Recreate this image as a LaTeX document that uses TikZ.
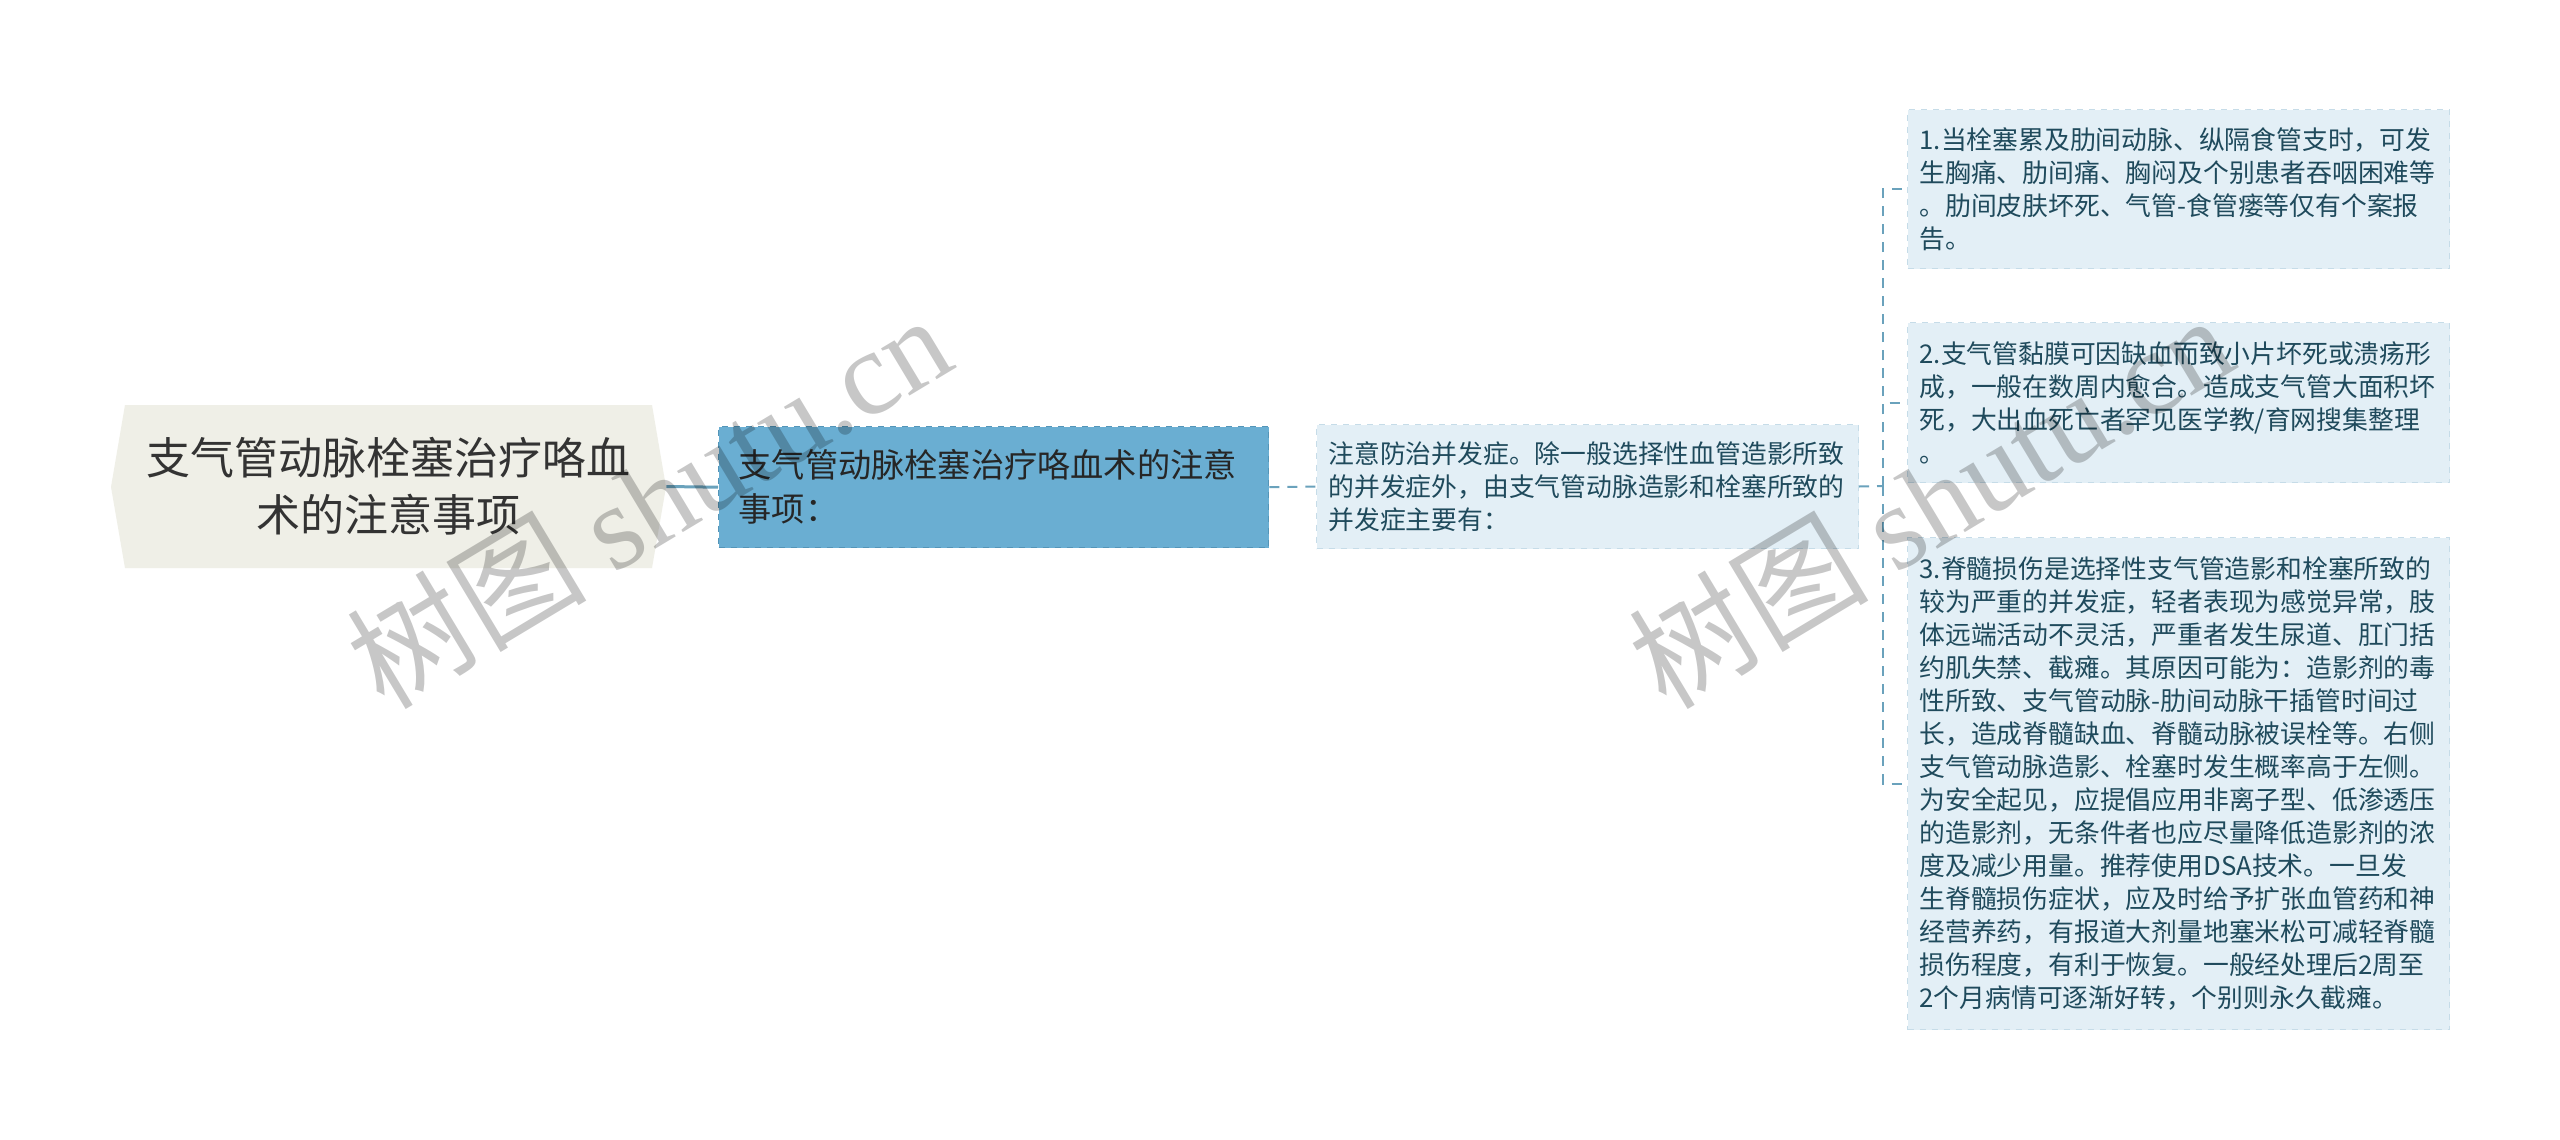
\documentclass[tikz,border=0pt]{standalone}
\usepackage{fontspec}
\setmainfont{Noto Sans CJK SC}
\newfontfamily\wmserif{Liberation Serif}
\definecolor{rootfill}{HTML}{EFEFE7}
\definecolor{roottext}{HTML}{333333}
\definecolor{midfill}{HTML}{6AAED2}
\definecolor{midline}{HTML}{5495B8}
\definecolor{leaffill}{HTML}{E3EFF6}
\definecolor{leafline}{HTML}{C6DCE8}
\definecolor{leaftext}{HTML}{1F4A5C}
\definecolor{conn}{HTML}{6AA2BC}
\tikzset{
  rootnode/.style={inner sep=0pt, minimum width=277.5pt, minimum height=81.5pt, align=center,
    text=roottext, font=\fontsize{22pt}{28.5pt}\selectfont},
  midnode/.style={draw=midline, dashed, line width=0.7pt, fill=midfill, anchor=north west,
    inner xsep=10pt, inner ysep=0pt, text width=255pt, minimum height=60.5pt, align=left,
    text=black!85, font=\fontsize{16.6pt}{22pt}\selectfont},
  leafnode/.style={draw=leafline, dashed, line width=0.5pt, fill=leaffill, anchor=north west,
    inner xsep=6pt, inner ysep=0pt, text width=259pt, align=left,
    text=leaftext, font=\fontsize{12.9pt}{16.5pt}\selectfont},
  solidconn/.style={draw=conn, line width=1.5pt},
  dconn/.style={draw=conn, line width=1pt, dash pattern=on 5pt off 4pt},
  wm/.style={text=black, text opacity=0.22, font=\fontsize{60pt}{60pt}\selectfont, inner sep=0pt}
}
\begin{document}
\begin{tikzpicture}[x=0.5pt,y=-0.5pt]
\useasboundingbox (0,0) rectangle (2560,1140);
\fill[white] (0,0) rectangle (2560,1140);
% root shape
\fill[rootfill] (111,487) -- (125,405) -- (652,405) -- (666,487) -- (652,568) -- (125,568) -- cycle;
\node[rootnode] (root) at (388.5,486.5) {支气管动脉栓塞治疗咯血\\术的注意事项};
% middle node
\node[midnode] (n2) at (718,426) {支气管动脉栓塞治疗咯血术的注意\\事项：};
% summary node
\node[leafnode, minimum height=62pt] (n3) at (1316,424) {注意防治并发症。除一般选择性血管造影所致\\的并发症外，由支气管动脉造影和栓塞所致的\\并发症主要有：};
% children
\node[leafnode, minimum height=79.5pt] (c1) at (1907,109) {1.当栓塞累及肋间动脉、纵隔食管支时，可发\\生胸痛、肋间痛、胸闷及个别患者吞咽困难等\\。肋间皮肤坏死、气管-食管瘘等仅有个案报\\告。};
\node[leafnode, minimum height=80pt] (c2) at (1907,322) {2.支气管黏膜可因缺血而致小片坏死或溃疡形\\成，一般在数周内愈合。造成支气管大面积坏\\死，大出血死亡者罕见医学教/育网搜集整理\\。};
\node[leafnode, minimum height=246pt] (c3) at (1907,537) {3.脊髓损伤是选择性支气管造影和栓塞所致的\\较为严重的并发症，轻者表现为感觉异常，肢\\体远端活动不灵活，严重者发生尿道、肛门括\\约肌失禁、截瘫。其原因可能为：造影剂的毒\\性所致、支气管动脉-肋间动脉干插管时间过\\长，造成脊髓缺血、脊髓动脉被误栓等。右侧\\支气管动脉造影、栓塞时发生概率高于左侧。\\为安全起见，应提倡应用非离子型、低渗透压\\的造影剂，无条件者也应尽量降低造影剂的浓\\度及减少用量。推荐使用DSA技术。一旦发\\生脊髓损伤症状，应及时给予扩张血管药和神\\经营养药，有报道大剂量地塞米松可减轻脊髓\\损伤程度，有利于恢复。一般经处理后2周至\\2个月病情可逐渐好转，个别则永久截瘫。};
% connectors
\draw[solidconn] (root.east) -- (n2.west);
\draw[dconn] (n2.east) -- (n3.west);
\coordinate (jn) at (1883,486);
\draw[dconn] (n3.east) -- (jn);
\draw[dconn] (jn) |- (c1.west);
\draw[dconn] (jn) |- (c2.west);
\draw[dconn] (jn) |- (c3.west);
% watermarks
\node[wm, rotate=31] (wm1) at (648,500) {树图 {\wmserif shutu.cn}};
\node[wm, rotate=31] (wm2) at (1930,500) {树图 {\wmserif shutu.cn}};
\end{tikzpicture}
\end{document}
